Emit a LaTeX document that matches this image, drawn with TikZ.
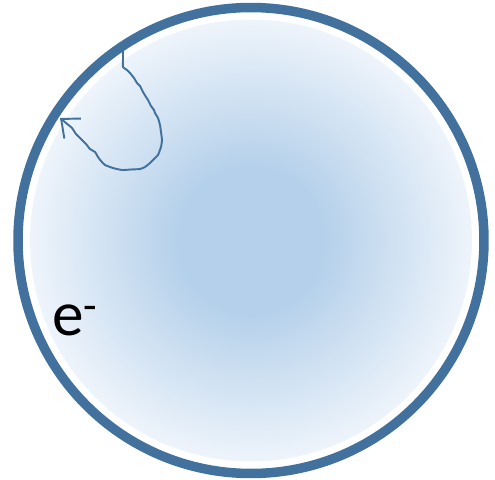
\documentclass[tikz,border=0pt]{standalone}
\usepackage{fontspec}
\setmainfont{Carlito}
\usetikzlibrary{arrows.meta}
\definecolor{ringblue}{RGB}{65,113,156}
\definecolor{core}{RGB}{180,208,234}
\definecolor{rim}{RGB}{238,244,251}
\pgfdeclareradialshading{glow}{\pgfpoint{0bp}{0bp}}{color(0bp)=(core); color(8bp)=(core); color(25bp)=(rim); color(50bp)=(rim)}
\begin{document}
\begin{tikzpicture}[x=0.02cm,y=-0.02cm]
\useasboundingbox (0,0) rectangle (495,480);
\shade[shading=glow] (251,240.5) circle (221);
\draw[ringblue,line width=0.19cm] (251,240.5) circle (233);
\draw[ringblue,line width=1.1pt,line join=round,-{Straight Barb[length=3mm,width=5.2mm]}]
  plot[smooth,tension=0.3] coordinates {(123,50) (123,58) (123,67) (127,70) (130,73) (134,78)
  (137,83) (140,86) (143,92) (146,97) (148,100) (151,106) (154,110) (155,113) (158,118)
  (160,125) (161,132) (162,140) (161,147) (158,155) (154,159) (150,163) (145,167) (140,169)
  (131,169.5) (122,170) (113,168) (105,165) (101,161) (98,157) (95,152) (90,149) (86,144)
  (81,139) (76,134) (72,128) (66,123) (60,118)};
\node[anchor=base west,inner sep=0pt,font=\fontsize{36}{40}\selectfont] (elec) at (52,336) {e\textsuperscript{-}};
\end{tikzpicture}
\end{document}
